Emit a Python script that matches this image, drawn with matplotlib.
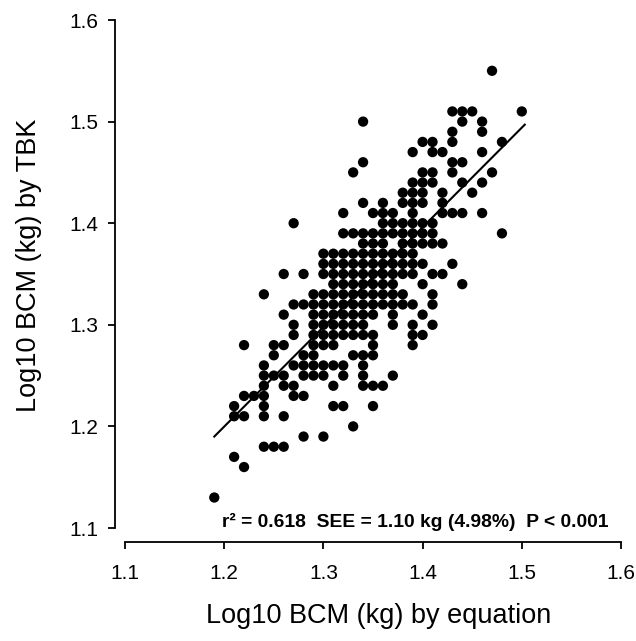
import numpy as np
import matplotlib
matplotlib.use("Agg")
import matplotlib.pyplot as plt

plt.rcParams['font.family'] = ['Liberation Sans', 'DejaVu Sans']

# log10 BCM by TBK (rows) and the equation values seen on each row
tbk_rows = [1.55, 1.51, 1.50, 1.49, 1.48, 1.47, 1.46, 1.45, 1.44, 1.43,
            1.42, 1.41, 1.40, 1.39, 1.38, 1.37, 1.36, 1.35, 1.34, 1.33,
            1.32, 1.31, 1.30, 1.29, 1.28, 1.27, 1.26, 1.25, 1.24, 1.23,
            1.22, 1.21, 1.20, 1.19, 1.18, 1.17, 1.16, 1.13]
eq_by_row = [
    [1.47],
    [1.43, 1.44, 1.45, 1.50],
    [1.34, 1.44, 1.46],
    [1.43, 1.46],
    [1.40, 1.41, 1.43, 1.48],
    [1.39, 1.41, 1.42, 1.46],
    [1.34, 1.43, 1.44],
    [1.33, 1.40, 1.41, 1.43, 1.47],
    [1.39, 1.40, 1.41, 1.44, 1.46],
    [1.38, 1.39, 1.40, 1.42, 1.45],
    [1.34, 1.36, 1.38, 1.39, 1.40, 1.42],
    [1.32, 1.35, 1.36, 1.37, 1.39, 1.42, 1.43, 1.44, 1.46],
    [1.27, 1.36, 1.37, 1.38, 1.39, 1.40, 1.41],
    [1.32, 1.33, 1.34, 1.35, 1.36, 1.37, 1.38, 1.39, 1.40, 1.41, 1.48],
    [1.34, 1.35, 1.36, 1.38, 1.39, 1.40, 1.41, 1.42],
    [1.30, 1.31, 1.32, 1.33, 1.34, 1.35, 1.36, 1.37, 1.38, 1.39],
    [1.30, 1.31, 1.32, 1.33, 1.34, 1.35, 1.36, 1.37, 1.38, 1.39, 1.40, 1.43],
    [1.26, 1.28, 1.30, 1.31, 1.32, 1.33, 1.34, 1.35, 1.36, 1.37, 1.38, 1.39, 1.41, 1.42],
    [1.31, 1.32, 1.33, 1.34, 1.35, 1.36, 1.37, 1.40, 1.44],
    [1.24, 1.29, 1.30, 1.31, 1.32, 1.33, 1.34, 1.35, 1.36, 1.37, 1.38, 1.41],
    [1.27, 1.28, 1.29, 1.30, 1.31, 1.32, 1.33, 1.34, 1.35, 1.36, 1.37, 1.38, 1.39, 1.41],
    [1.26, 1.29, 1.30, 1.31, 1.32, 1.33, 1.34, 1.35, 1.37, 1.40],
    [1.27, 1.29, 1.30, 1.31, 1.32, 1.33, 1.34, 1.37, 1.39, 1.41],
    [1.27, 1.29, 1.30, 1.31, 1.32, 1.33, 1.34, 1.35, 1.39, 1.40],
    [1.22, 1.25, 1.26, 1.29, 1.30, 1.31, 1.35, 1.39],
    [1.25, 1.28, 1.29, 1.33, 1.34, 1.35],
    [1.24, 1.27, 1.28, 1.29, 1.30, 1.31, 1.32, 1.34],
    [1.24, 1.25, 1.26, 1.28, 1.29, 1.30, 1.32, 1.34, 1.37],
    [1.24, 1.26, 1.27, 1.31, 1.34, 1.35, 1.36],
    [1.22, 1.23, 1.24, 1.27, 1.28],
    [1.21, 1.24, 1.31, 1.32, 1.35],
    [1.21, 1.22, 1.24, 1.26],
    [1.33],
    [1.28, 1.30],
    [1.24, 1.25, 1.26],
    [1.21],
    [1.22],
    [1.19],
]

# regression line as drawn
fit_x = [1.19, 1.503]
fit_y = [1.19, 1.497]

ticks = [1.1, 1.2, 1.3, 1.4, 1.5, 1.6]
stats_text = "r\u00b2 = 0.618  SEE = 1.10 kg (4.98%)  P < 0.001"

x_eq = []
y_tbk = []
for yv, xs in zip(tbk_rows, eq_by_row):
    for xv in xs:
        x_eq.append(xv)
        y_tbk.append(yv)
x_eq = np.array(x_eq)
y_tbk = np.array(y_tbk)

fig = plt.figure(figsize=(6.36, 6.41), dpi=100)
ax = fig.add_axes([125 / 636, 113 / 641, 496 / 636, 508 / 641])

ax.scatter(x_eq, y_tbk, s=55, color='black', edgecolors='none', zorder=3)
ax.plot(fit_x, fit_y, color='black', lw=1.5, zorder=2)

ax.set_xlim(1.1, 1.6)
ax.set_ylim(1.1, 1.6)
ax.set_xticks(ticks)
ax.set_yticks(ticks)
ax.set_xticklabels([f"{t:.1f}" for t in ticks])
ax.set_yticklabels([f"{t:.1f}" for t in ticks])

for side in ['top', 'right']:
    ax.spines[side].set_visible(False)
ax.spines['left'].set_position(('outward', 7.2))
ax.spines['bottom'].set_position(('outward', 10))
for side in ['left', 'bottom']:
    ax.spines[side].set_linewidth(1.3)

ax.tick_params(axis='both', which='major', length=5, width=1.3,
               labelsize=15, color='black')
ax.tick_params(axis='x', pad=11)
ax.tick_params(axis='y', pad=7)

ax.set_xlabel("Log10 BCM (kg) by equation", fontsize=19.5)
ax.set_ylabel("Log10 BCM (kg) by TBK", fontsize=19.5)
ax.xaxis.set_label_coords(0.512, -0.148)
ax.yaxis.set_label_coords(-0.168, 0.518)

ax.text(1.198, 1.101, stats_text, fontsize=13.9, fontweight='bold',
        ha='left', va='baseline')

fig.savefig("out.png", dpi=100)
